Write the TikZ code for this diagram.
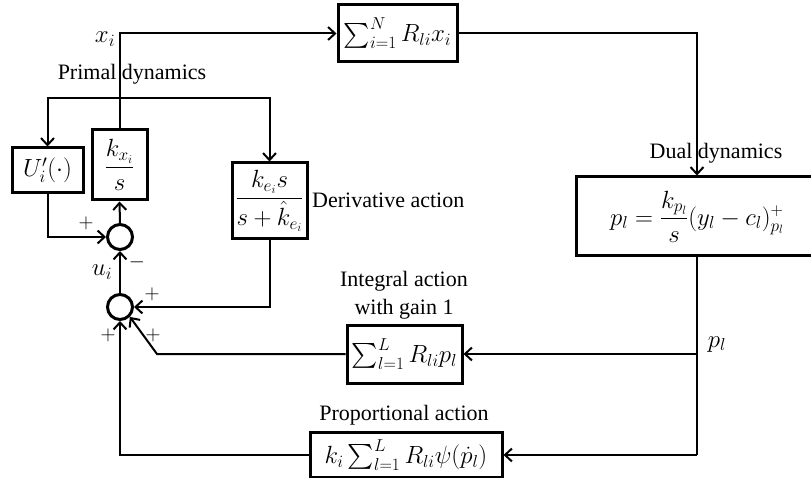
\documentclass[tikz,border=0pt]{standalone}
\usepackage{amsmath}
\usepackage{fontspec}
\setmainfont{Liberation Serif}
\usetikzlibrary{arrows.meta}
\begin{document}
\begin{tikzpicture}[x=1pt,y=-1pt,
  box/.style={draw, line width=3pt, inner sep=0pt, font=\fontsize{25}{29}\selectfont},
  wire/.style={line width=2pt},
  arr/.style={wire, -{Straight Barb[length=7pt,width=13pt,line width=2pt]}},
  sumj/.style={circle, draw, line width=3pt, minimum size=25pt, inner sep=0pt},
  lbl/.style={font=\fontsize{22}{26}\selectfont, inner sep=0pt, anchor=base},
  mlbl/.style={font=\fontsize{26}{30}\selectfont, inner sep=0pt, anchor=base},
  sgn/.style={font=\fontsize{21}{24}\selectfont, inner sep=0pt}]
\useasboundingbox (0,0) rectangle (811,478);
\fill[white] (0,0) rectangle (811,478);
% blocks
\node[box,minimum width=119pt,minimum height=57pt] (sumx) at (397.5,33.5) {$\sum_{i=1}^{N} R_{li}x_i$};
\node[box,minimum width=71pt,minimum height=45pt] (U) at (47.5,170.5) {$U_i'(\cdot)$};
\node[box,minimum width=55pt,minimum height=70pt] (kx) at (119.5,165) {$\dfrac{k_{x_i}}{s}$};
\node[box,minimum width=75pt,minimum height=76pt] (de) at (269.5,201) {$\dfrac{k_{e_i}s}{s+\hat{k}_{e_i}}$};
\node[box,minimum width=242pt,minimum height=79pt] (dual) at (697,216.5) {$p_l=\dfrac{k_{p_l}}{s}(y_l-c_l)^{+}_{p_l}$};
\node[box,minimum width=115pt,minimum height=58pt] (int) at (404.5,354) {$\sum_{l=1}^{L} R_{li}p_l$};
\node[box,minimum width=192pt,minimum height=45pt] (prop) at (406,455) {$k_i\sum_{l=1}^{L} R_{li}\psi(\dot{p}_l)$};
% summing junctions
\node[sumj] (c1) at (120,237) {};
\node[sumj] (c2) at (120,307) {};
% branch points
\coordinate (tap) at (120,98);
\coordinate (pl) at (697,354);
\coordinate (bot) at (697,455);
\coordinate (bend) at (157,354);
% connectors
\draw[arr] (kx.north) |- (sumx.west);
\draw[arr] (sumx.east) -| (dual.north);
\draw[arr] (tap) -| (U.north);
\draw[arr] (tap) -| (de.north);
\draw[arr] (U.south) |- (c1.west);
\draw[arr] (c1.north) -- (kx.south);
\draw[arr] (c2.north) -- (c1.south);
\draw[arr] (de.south) |- (c2.east);
\draw[wire] (dual.south) -- (bot);
\draw[arr] (pl) -- (int.east);
\draw[arr] (bot) -- (prop.east);
\draw[arr] (int.west) -- (bend) -- (c2.-45);
\draw[arr] (prop.west) -| (c2.south);
% labels
\node[mlbl] (tx) at (105,43) {$x_i$};
\node[lbl] (tprimal) at (132,80) {Primal dynamics};
\node[lbl] (tdual) at (716,159) {Dual dynamics};
\node[lbl,anchor=base west] (tder) at (312,208) {Derivative action};
\node[lbl] (tint1) at (404,287) {Integral action};
\node[lbl] (tint2) at (404,315) {with gain 1};
\node[lbl] (tprop) at (404,420) {Proportional action};
\node[mlbl] (tpl) at (717,347) {$p_l$};
\node[mlbl] (tu) at (102,276) {$u_i$};
\node[sgn] (s1) at (86,223) {$+$};
\node[sgn] (s2) at (137,262) {$-$};
\node[sgn] (s3) at (152,294) {$+$};
\node[sgn] (s4) at (153,335) {$+$};
\node[sgn] (s5) at (108,335) {$+$};
\end{tikzpicture}
\end{document}
